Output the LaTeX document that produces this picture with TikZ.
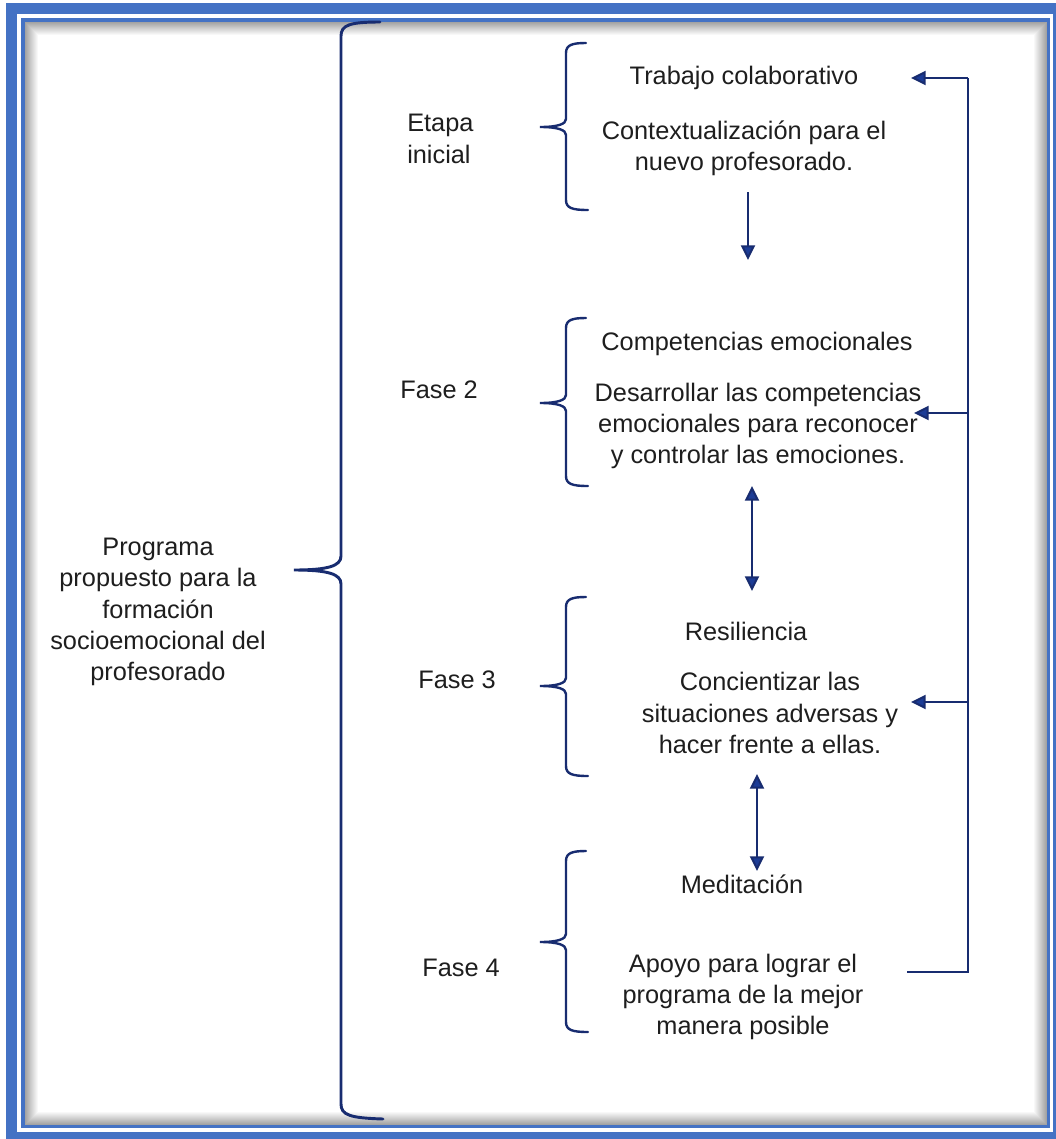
\documentclass[tikz,border=0pt]{standalone}
\usepackage{fontspec}
\setmainfont{Liberation Sans}
\usetikzlibrary{arrows.meta}
\definecolor{frameblue}{RGB}{68,114,196}
\definecolor{navy}{RGB}{24,44,112}
\definecolor{tipblue}{RGB}{28,60,150}
\definecolor{ink}{RGB}{30,30,30}
\begin{document}
\begin{tikzpicture}[x=0.75pt, y=-0.75pt,
		txt/.style={text=ink, font=\fontsize{19}{23.5}\selectfont, align=center, inner sep=0pt},
		brc/.style={navy, line width=2.2pt, line cap=round},
		link/.style={navy, line width=1.5pt},
		>={Triangle[length=11pt, width=10.5pt, fill=tipblue]}]

		\useasboundingbox (0,0) rectangle (1056,1139);

		% Frame: thick outer band, thin inner band, inner shadow
		\fill[frameblue] (6,3) rectangle (1056,1139);
		\fill[white] (17,14) rectangle (1053,1132);
		\fill[frameblue] (21,18) rectangle (1050,1128);
		\fill[white] (25,22) rectangle (1047,1125);
		\foreach \i [evaluate=\i as \op using 0.36*(1-\i/13)] in {0,...,12} {
				\draw[black, opacity=\op, line width=0.75pt] (25.5+\i,22.5+\i) rectangle (1046.5-\i,1124.5-\i);
			}

		% Main text and big brace
		\node[txt] (prog) at (158,612) {Programa\\propuesto para la\\formación\\socioemocional del\\profesorado};
		\draw[brc] (380,22) .. controls (350,22) and (341,25) .. (341,36) -- (341,556)
			.. controls (341,566) and (328,570) .. (294,570)
			.. controls (328,570) and (341,574) .. (341,584) -- (341,1104)
			.. controls (341,1115) and (350,1118) .. (383,1119);

		% One small brace for each phase
		\foreach \name/\top/\mid/\bot in {
				tip1/43/127/210,
				tip2/318/403/486,
				tip3/597/686/776,
				tip4/851/942/1032
			} {
				\draw[brc, line width=1.8pt] (586,\top) .. controls (572,\top) and (566,\top+2) .. (566,\top+10) -- (566,\mid-8)
					.. controls (566,\mid-3) and (558,\mid) .. (540,\mid)
					.. controls (558,\mid) and (566,\mid+3) .. (566,\mid+8) -- (566,\bot-10)
					.. controls (566,\bot-2) and (572,\bot) .. (588,\bot);
				\coordinate (\name) at (540,\mid);
			}

		% Phase labels
		\node[txt, align=left, anchor=west] (etapa) at (407,139) {Etapa\\inicial};
		\node[txt] (fase2) at (439,390) {Fase 2};
		\node[txt] (fase3) at (457,680) {Fase 3};
		\node[txt] (fase4) at (461,968) {Fase 4};

		% Titles and descriptions
		\node[txt] (tit1) at (744,78) {Trabajo colaborativo};
		\node[txt] (desc1) at (744,148) {Contextualización para el\\nuevo profesorado.};
		\node[txt] (tit2) at (757,344) {Competencias emocionales};
		\node[txt] (desc2) at (758,426) {Desarrollar las competencias\\emocionales para reconocer\\y controlar las emociones.};
		\node[txt] (tit3) at (746,631) {Resiliencia};
		\node[txt] (desc3) at (770,713) {Concientizar las\\situaciones adversas y\\hacer frente a ellas.};
		\node[txt] (tit4) at (742,884) {Meditación};
		\node[txt] (desc4) at (743,997) {Apoyo para lograr el\\programa de la mejor\\manera posible};

		% Arrows between phases
		\coordinate (dn1a) at (748,192);
		\coordinate (dn1b) at (748,260);
		\coordinate (dn2a) at (752,486);
		\coordinate (dn2b) at (752,591);
		\coordinate (dn3a) at (757,774);
		\coordinate (dn3b) at (757,871);
		\draw[link, ->] (dn1a) -- (dn1b);
		\draw[link, <->] (dn2a) -- (dn2b);
		\draw[link, <->] (dn3a) -- (dn3b);

		% Feedback line on the right
		\coordinate (back0) at (907,972);
		\coordinate (back1) at (968,972);
		\coordinate (back2) at (968,78);
		\coordinate (in1) at (911,78);
		\coordinate (in2a) at (968,413);
		\coordinate (in2) at (914,413);
		\coordinate (in3a) at (968,702);
		\coordinate (in3) at (911,702);
		\draw[link, line join=miter] (back0) -- (back1) -- (back2);
		\draw[link, ->] (back2) -- (in1);
		\draw[link, ->] (in2a) -- (in2);
		\draw[link, ->] (in3a) -- (in3);

	\end{tikzpicture}
\end{document}
